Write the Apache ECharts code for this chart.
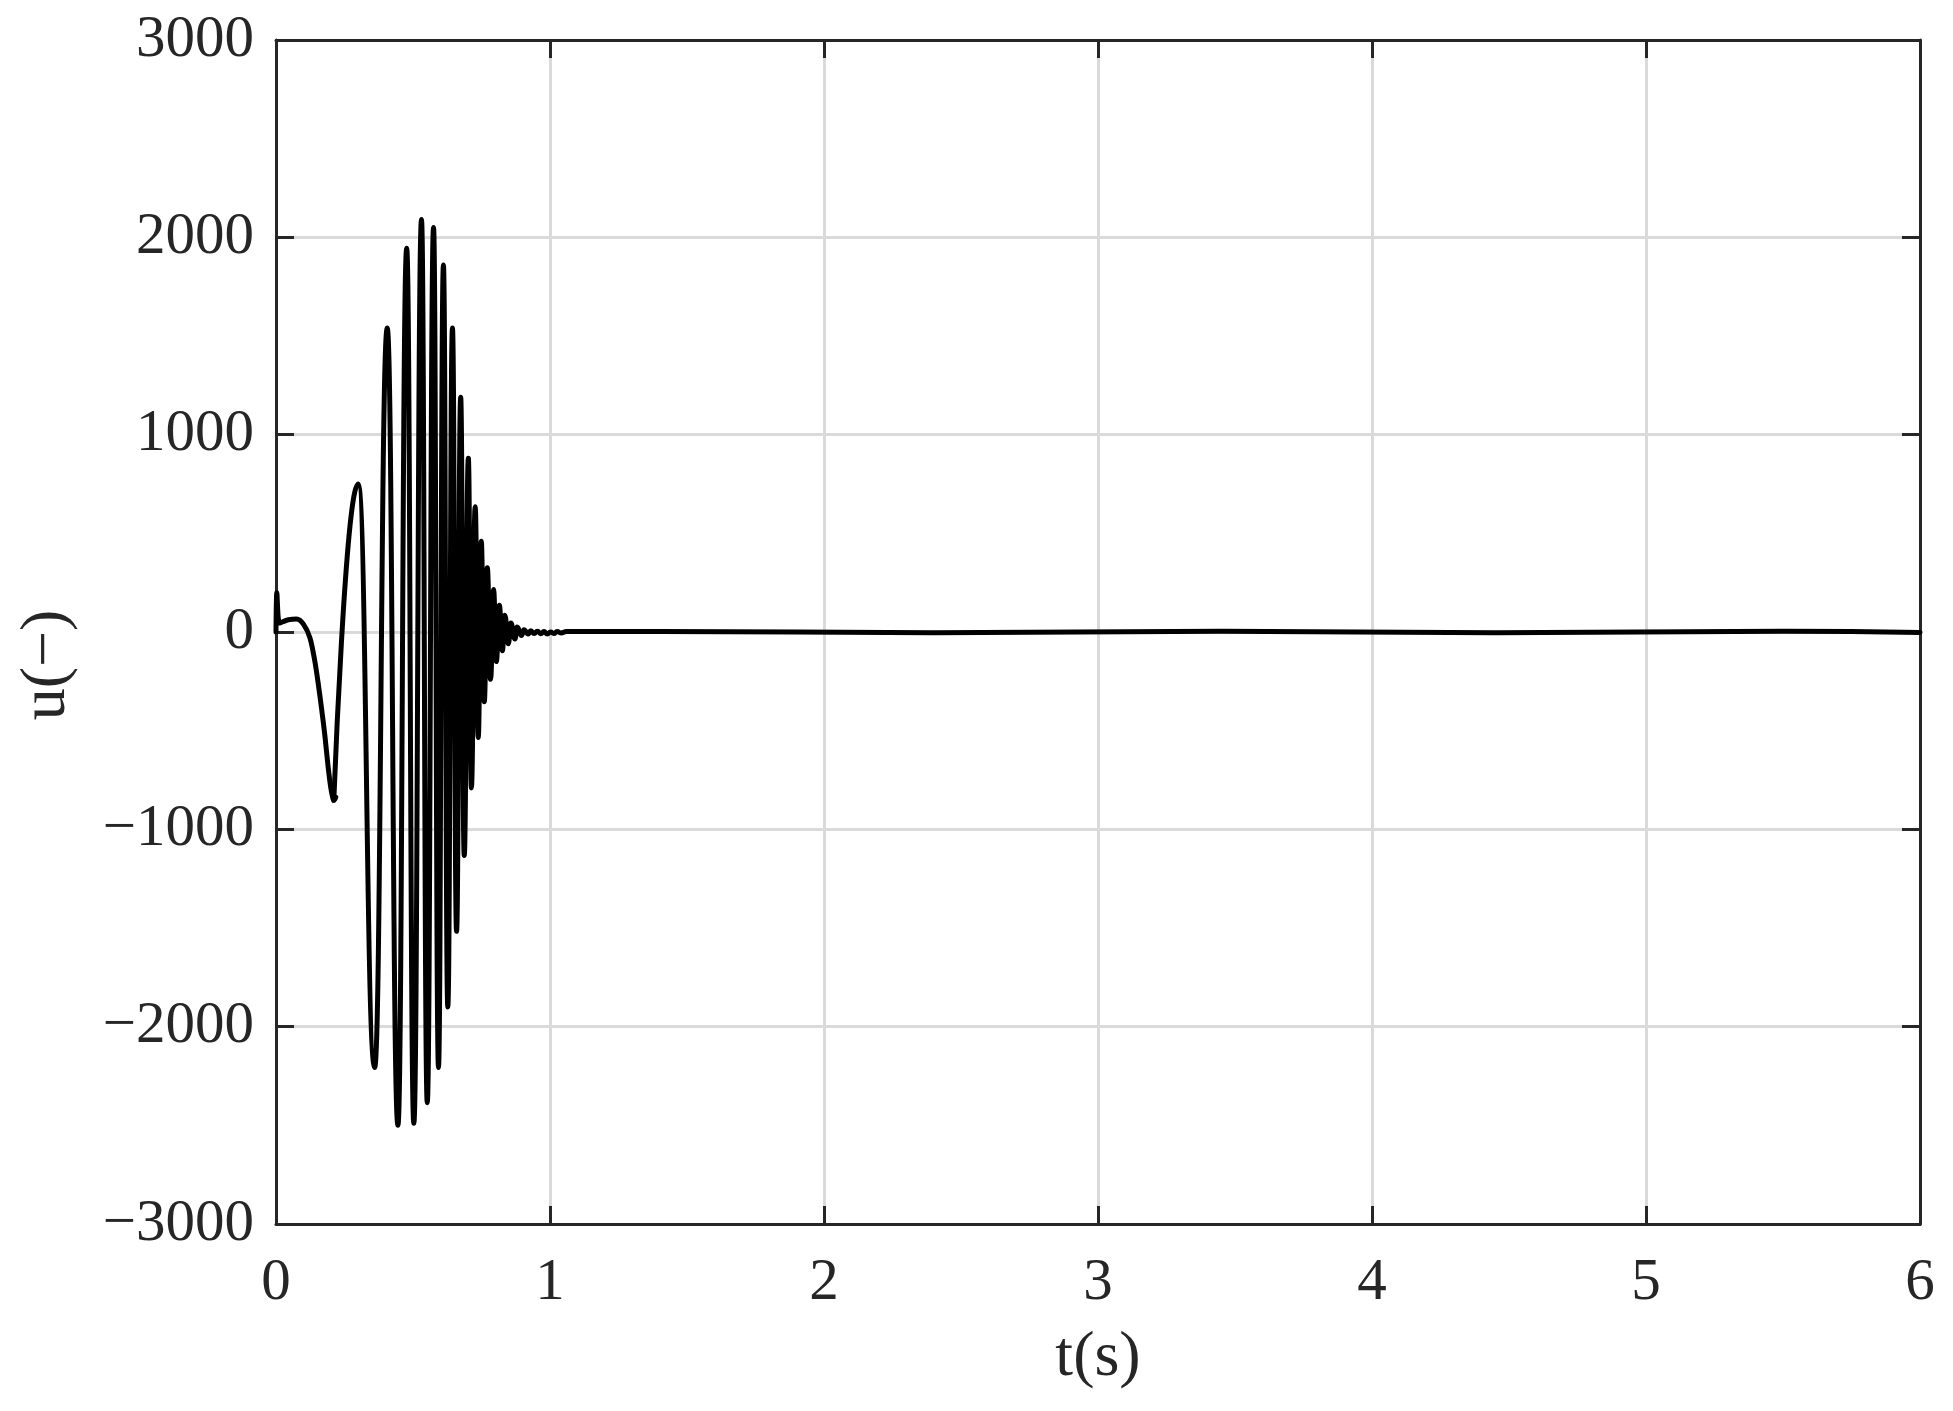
<!DOCTYPE html>
<html><head><meta charset="utf-8">
<script src="https://cdn.jsdelivr.net/npm/echarts@6/dist/echarts.min.js"></script>
<style>html,body{margin:0;padding:0;background:#fff}#c{width:1953px;height:1411px}</style>
</head><body><div id="c"></div>
<script>
// Tick values
const xTickValues = [0, 1, 2, 3, 4, 5, 6];
const yTickValues = [-3000, -2000, -1000, 0, 1000, 2000, 3000];

// Start-up transient (t in s, u dimensionless)
const tStart = [0, 0.003, 0.012, 0.025, 0.045, 0.075, 0.1, 0.124, 0.142, 0.155, 0.166, 0.178, 0.190, 0.200, 0.207, 0.211, 0.218];
const uStart = [0, 200, 45, 52, 62, 66, 40, -30, -150, -270, -385, -520, -680, -790, -840, -853, -838];

// Oscillation extrema
const tOsc = [0.211, 0.300, 0.360, 0.406, 0.445, 0.477, 0.503, 0.531, 0.552, 0.575, 0.593, 0.611, 0.627, 0.644, 0.659, 0.674, 0.687, 0.702, 0.713, 0.727, 0.738, 0.749, 0.760, 0.771, 0.783, 0.794, 0.804, 0.815, 0.826, 0.835, 0.848, 0.857, 0.872, 0.880, 0.896, 0.905, 0.920, 0.930, 0.942, 0.954, 0.966, 0.978, 0.990, 1.002, 1.014, 1.026, 1.040, 1.060];
const uOsc = [-853, 750, -2207, 1540, -2500, 1945, -2490, 2090, -2385, 2050, -2207, 1860, -1900, 1540, -1517, 1190, -1132, 880, -790, 635, -535, 460, -354, 325, -240, 215, -150, 135, -95, 85, -60, 45, -35, 25, -18, 12, -10, 6, -8, 4, -9, 2, -10, 0, -8, 2, -5, 2];

// Slow residual drift
const tTail = [1.1, 1.4, 2.4, 3.45, 4.45, 5.5, 6.0];
const uTail = [2, 3, -4, 4, -4, 4, -2];

const FONT = 'Liberation Serif';
const AX = '#262626';
const fmtY = v => (v < 0 ? '\u2212' + Math.abs(v) : String(v));

const pair = (ts, us) => ts.map((t, i) => [t, us[i]]);

const chart = echarts.init(document.getElementById('c'), null, {renderer: 'canvas'});
const axisLineStyle = {color: AX, width: 3};
const tickStyle = {show: true, inside: true, length: 18, lineStyle: {color: AX, width: 3}};
chart.setOption({
  backgroundColor: '#fff',
  animation: false,
  grid: {left: 276, right: 33, top: 40, bottom: 187, containLabel: false},
  graphic: [{
    type: 'text', x: 47, y: 665, rotation: Math.PI / 2,
    style: {text: 'u(\u2212)', fontFamily: FONT, fontSize: 64, fill: AX, align: 'center', verticalAlign: 'middle'}
  }],
  xAxis: [{
    type: 'value', position: 'bottom',
    min: xTickValues[0], max: xTickValues[xTickValues.length - 1], interval: xTickValues[1] - xTickValues[0],
    axisLine: {show: true, onZero: false, lineStyle: axisLineStyle},
    axisTick: tickStyle,
    axisLabel: {fontFamily: FONT, fontSize: 59, color: AX, margin: 30},
    splitLine: {show: true, lineStyle: {color: '#dadada', width: 3}},
    name: 't(s)', nameLocation: 'middle', nameGap: 102,
    nameTextStyle: {fontFamily: FONT, fontSize: 64, color: AX}
  }, {
    type: 'value', position: 'top',
    min: xTickValues[0], max: xTickValues[xTickValues.length - 1], interval: xTickValues[1] - xTickValues[0],
    axisLine: {show: true, onZero: false, lineStyle: axisLineStyle},
    axisTick: tickStyle, axisLabel: {show: false}, splitLine: {show: false}
  }],
  yAxis: [{
    type: 'value', position: 'left',
    min: yTickValues[0], max: yTickValues[yTickValues.length - 1], interval: yTickValues[1] - yTickValues[0],
    axisLine: {show: true, onZero: false, lineStyle: axisLineStyle},
    axisTick: tickStyle,
    axisLabel: {fontFamily: FONT, fontSize: 59, color: AX, margin: 22, formatter: fmtY},
    splitLine: {show: true, lineStyle: {color: '#dadada', width: 3}}
  }, {
    type: 'value', position: 'right',
    min: yTickValues[0], max: yTickValues[yTickValues.length - 1], interval: yTickValues[1] - yTickValues[0],
    axisLine: {show: true, onZero: false, lineStyle: axisLineStyle},
    axisTick: tickStyle, axisLabel: {show: false}, splitLine: {show: false}
  }],
  series: [{
    type: 'line', xAxisIndex: 0, yAxisIndex: 0,
    data: pair(tStart, uStart),
    showSymbol: false, symbol: 'none', smooth: 0.3,
    lineStyle: {color: '#000', width: 5, join: 'round', cap: 'round'}, z: 3
  }, {
    type: 'line', xAxisIndex: 0, yAxisIndex: 0,
    data: pair(tOsc, uOsc).concat(pair(tTail, uTail)),
    showSymbol: false, symbol: 'none', smooth: 0.5, smoothMonotone: 'x',
    lineStyle: {color: '#000', width: 5, join: 'round', cap: 'round'}, z: 3
  }]
});
</script>
</body></html>
